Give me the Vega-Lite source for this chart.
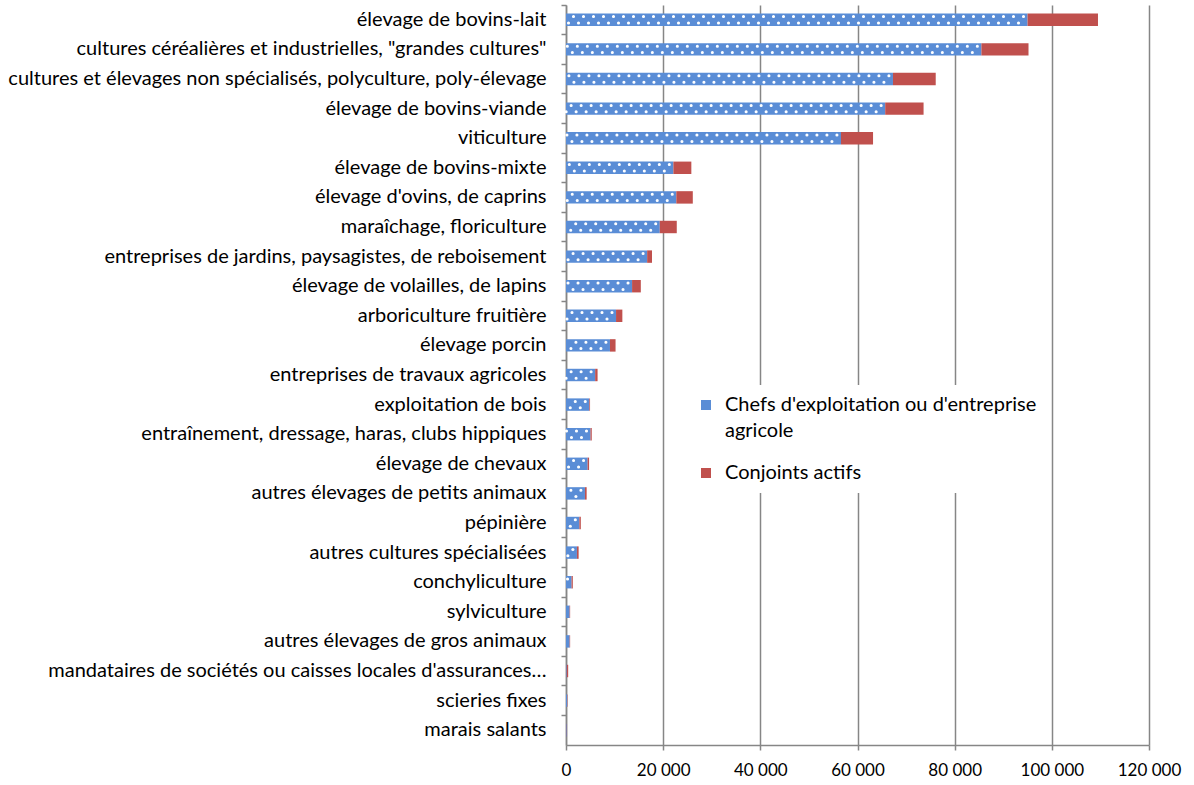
{
  "$schema": "https://vega.github.io/schema/vega-lite/v6.json",
  "autosize": "none",
  "width": 583,
  "height": 740,
  "padding": {"left": 566, "top": 5, "right": 45, "bottom": 40},
  "background": "white",
  "config": {
    "font": "Lato",
    "view": {"stroke": null},
    "style": {"guide-label": {"lineHeight": 26}}
  },
  "data": {
    "values": [
      {"cat": "élevage de bovins-lait", "serie": "Chefs d'exploitation ou d'entreprise agricole", "value": 95000},
      {"cat": "élevage de bovins-lait", "serie": "Conjoints actifs", "value": 14500},
      {"cat": "cultures céréalières et industrielles, \"grandes cultures\"", "serie": "Chefs d'exploitation ou d'entreprise agricole", "value": 85500},
      {"cat": "cultures céréalières et industrielles, \"grandes cultures\"", "serie": "Conjoints actifs", "value": 9700},
      {"cat": "cultures et élevages non spécialisés, polyculture, poly-élevage", "serie": "Chefs d'exploitation ou d'entreprise agricole", "value": 67300},
      {"cat": "cultures et élevages non spécialisés, polyculture, poly-élevage", "serie": "Conjoints actifs", "value": 8800},
      {"cat": "élevage de bovins-viande", "serie": "Chefs d'exploitation ou d'entreprise agricole", "value": 65700},
      {"cat": "élevage de bovins-viande", "serie": "Conjoints actifs", "value": 7900},
      {"cat": "viticulture", "serie": "Chefs d'exploitation ou d'entreprise agricole", "value": 56600},
      {"cat": "viticulture", "serie": "Conjoints actifs", "value": 6600},
      {"cat": "élevage de bovins-mixte", "serie": "Chefs d'exploitation ou d'entreprise agricole", "value": 22100},
      {"cat": "élevage de bovins-mixte", "serie": "Conjoints actifs", "value": 3700},
      {"cat": "élevage d'ovins, de caprins", "serie": "Chefs d'exploitation ou d'entreprise agricole", "value": 22700},
      {"cat": "élevage d'ovins, de caprins", "serie": "Conjoints actifs", "value": 3400},
      {"cat": "maraîchage, floriculture", "serie": "Chefs d'exploitation ou d'entreprise agricole", "value": 19300},
      {"cat": "maraîchage, floriculture", "serie": "Conjoints actifs", "value": 3500},
      {"cat": "entreprises de jardins, paysagistes, de reboisement", "serie": "Chefs d'exploitation ou d'entreprise agricole", "value": 16700},
      {"cat": "entreprises de jardins, paysagistes, de reboisement", "serie": "Conjoints actifs", "value": 1000},
      {"cat": "élevage de volailles, de lapins", "serie": "Chefs d'exploitation ou d'entreprise agricole", "value": 13600},
      {"cat": "élevage de volailles, de lapins", "serie": "Conjoints actifs", "value": 1800},
      {"cat": "arboriculture fruitière", "serie": "Chefs d'exploitation ou d'entreprise agricole", "value": 10300},
      {"cat": "arboriculture fruitière", "serie": "Conjoints actifs", "value": 1300},
      {"cat": "élevage porcin", "serie": "Chefs d'exploitation ou d'entreprise agricole", "value": 9050},
      {"cat": "élevage porcin", "serie": "Conjoints actifs", "value": 1150},
      {"cat": "entreprises de travaux agricoles", "serie": "Chefs d'exploitation ou d'entreprise agricole", "value": 6000},
      {"cat": "entreprises de travaux agricoles", "serie": "Conjoints actifs", "value": 500},
      {"cat": "exploitation de bois", "serie": "Chefs d'exploitation ou d'entreprise agricole", "value": 4800},
      {"cat": "exploitation de bois", "serie": "Conjoints actifs", "value": 150},
      {"cat": "entraînement, dressage, haras, clubs hippiques", "serie": "Chefs d'exploitation ou d'entreprise agricole", "value": 5050},
      {"cat": "entraînement, dressage, haras, clubs hippiques", "serie": "Conjoints actifs", "value": 250},
      {"cat": "élevage de chevaux", "serie": "Chefs d'exploitation ou d'entreprise agricole", "value": 4450},
      {"cat": "élevage de chevaux", "serie": "Conjoints actifs", "value": 300},
      {"cat": "autres élevages de petits animaux", "serie": "Chefs d'exploitation ou d'entreprise agricole", "value": 3900},
      {"cat": "autres élevages de petits animaux", "serie": "Conjoints actifs", "value": 350},
      {"cat": "pépinière", "serie": "Chefs d'exploitation ou d'entreprise agricole", "value": 2750},
      {"cat": "pépinière", "serie": "Conjoints actifs", "value": 300},
      {"cat": "autres cultures spécialisées", "serie": "Chefs d'exploitation ou d'entreprise agricole", "value": 2250},
      {"cat": "autres cultures spécialisées", "serie": "Conjoints actifs", "value": 350},
      {"cat": "conchyliculture", "serie": "Chefs d'exploitation ou d'entreprise agricole", "value": 1150},
      {"cat": "conchyliculture", "serie": "Conjoints actifs", "value": 250},
      {"cat": "sylviculture", "serie": "Chefs d'exploitation ou d'entreprise agricole", "value": 750},
      {"cat": "sylviculture", "serie": "Conjoints actifs", "value": 100},
      {"cat": "autres élevages de gros animaux", "serie": "Chefs d'exploitation ou d'entreprise agricole", "value": 750},
      {"cat": "autres élevages de gros animaux", "serie": "Conjoints actifs", "value": 100},
      {"cat": "mandataires de sociétés ou caisses locales d'assurances…", "serie": "Chefs d'exploitation ou d'entreprise agricole", "value": 150},
      {"cat": "mandataires de sociétés ou caisses locales d'assurances…", "serie": "Conjoints actifs", "value": 300},
      {"cat": "scieries fixes", "serie": "Chefs d'exploitation ou d'entreprise agricole", "value": 250},
      {"cat": "scieries fixes", "serie": "Conjoints actifs", "value": 80},
      {"cat": "marais salants", "serie": "Chefs d'exploitation ou d'entreprise agricole", "value": 150},
      {"cat": "marais salants", "serie": "Conjoints actifs", "value": 60}
    ]
  },
  "encoding": {
    "y": {
      "field": "cat",
      "type": "nominal",
      "sort": null,
      "scale": {"paddingInner": 0, "paddingOuter": 0},
      "axis": {
        "title": null,
        "labelFont": "Lato",
        "labelFontSize": 20,
        "labelColor": "#000000",
        "labelLimit": 600,
        "labelPadding": 15,
        "tickSize": 5,
        "tickColor": "#868686",
        "tickWidth": 1.5,
        "bandPosition": 0,
        "domainColor": "#868686",
        "domainWidth": 1.5,
        "grid": false
      }
    }
  },
  "layer": [
    {
      "mark": {"type": "bar", "height": {"band": 0.42}},
      "encoding": {
        "x": {
          "field": "value",
          "type": "quantitative",
          "stack": "zero",
          "scale": {"domain": [0, 120000], "nice": false},
          "axis": {
            "title": null,
            "values": [0, 20000, 40000, 60000, 80000, 100000, 120000],
            "labelExpr": "replace(format(datum.value, ','), ',', ' ')",
            "labelFont": "Lato",
            "labelFontSize": 17,
            "labelColor": "#000000",
            "labelFlush": false,
            "labelPadding": 12,
            "tickSize": 5,
            "tickColor": "#868686",
            "tickWidth": 1.5,
            "domainColor": "#868686",
            "domainWidth": 1.5,
            "grid": true,
            "gridColor": "#868686",
            "gridWidth": 1.5
          }
        },
        "color": {
          "field": "serie",
          "type": "nominal",
          "scale": {
            "domain": ["Chefs d'exploitation ou d'entreprise agricole", "Conjoints actifs"],
            "range": ["#5A8DD6", "#C0504D"]
          },
          "legend": {
            "title": null,
            "orient": "none",
            "legendX": 120,
            "legendY": 380,
            "symbolType": "square",
            "symbolSize": 100,
            "symbolStrokeWidth": 0,
            "labelFont": "Lato",
            "labelFontSize": 20,
            "labelColor": "#000000",
            "labelLimit": 500,
            "labelOffset": 9,
            "rowPadding": 22,
            "fillColor": "white",
            "padding": 10,
            "labelExpr": "datum.label == 'Conjoints actifs' ? datum.label : ['Chefs d\\'exploitation ou d\\'entreprise', 'agricole']",
            "labelBaseline": "middle"
          }
        }
      }
    },
    {
      "transform": [{"filter": "datum.serie != 'Conjoints actifs'"}],
      "mark": {"type": "rule", "color": "white", "strokeWidth": 3, "strokeCap": "round", "strokeDash": [0.1, 9.9], "strokeDashOffset": -4, "yOffset": -3.2},
      "encoding": {
        "x": {"field": "value", "type": "quantitative"},
        "x2": {"datum": 0}
      }
    },
    {
      "transform": [{"filter": "datum.serie != 'Conjoints actifs'"}],
      "mark": {"type": "rule", "color": "white", "strokeWidth": 3, "strokeCap": "round", "strokeDash": [0.1, 9.9], "strokeDashOffset": 1, "yOffset": 3.2},
      "encoding": {
        "x": {"field": "value", "type": "quantitative"},
        "x2": {"datum": 0}
      }
    }
  ]
}
